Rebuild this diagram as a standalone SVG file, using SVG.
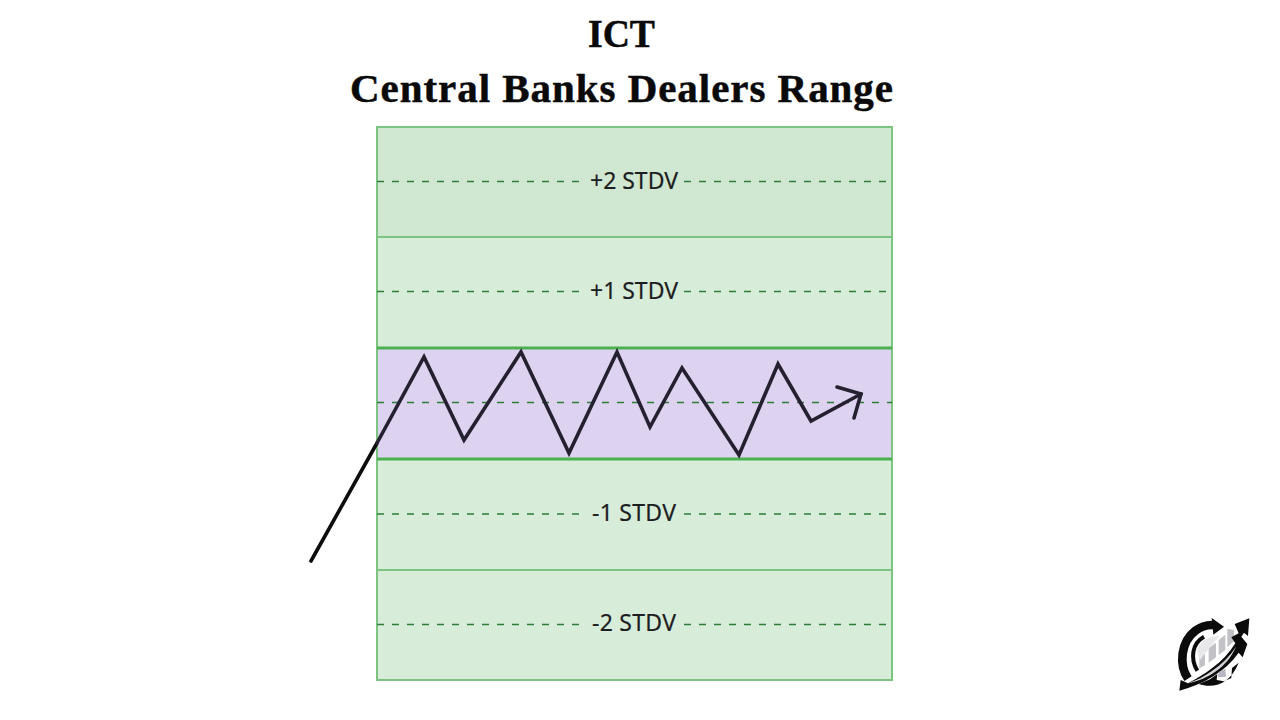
<svg xmlns="http://www.w3.org/2000/svg" width="1280" height="720" viewBox="0 0 1280 720">
<style>
.title{font-family:"Liberation Serif","DejaVu Serif",serif;font-weight:700;font-size:41px;fill:#0a0a0a;stroke:#0a0a0a;stroke-width:.5;text-anchor:middle}
.lab{font-family:"Noto Sans","DejaVu Sans",sans-serif;font-size:23px;fill:#1d1d22;stroke:#1d1d22;stroke-width:.2;text-anchor:middle}
.band{fill:#d7edd9;stroke:#7cc47f;stroke-width:2}
.dash{stroke:#2f7d38;stroke-width:1.5;stroke-dasharray:7 8;fill:none}
.edge{stroke:#4caf50;stroke-width:3}
.px{fill:none;stroke:#252030;stroke-width:3.6;stroke-linejoin:miter;stroke-linecap:round}
</style>
<rect width="1280" height="720" fill="#fff"/>
<g id="title">
<text class="title" x="621.5" y="47" textLength="67" lengthAdjust="spacingAndGlyphs">ICT</text>
<text class="title" x="621.5" y="102" textLength="543" lengthAdjust="spacing">Central Banks Dealers Range</text>
</g>
<g id="band-plus2"><rect class="band" x="377" y="127" width="515" height="110" style="fill:#d0e8d1"/></g>
<g id="band-plus1"><rect class="band" x="377" y="237" width="515" height="111"/></g>
<g id="band-range"><rect class="band" x="377" y="348" width="515" height="111" style="fill:#ddd2ef"/></g>
<g id="band-minus1"><rect class="band" x="377" y="459" width="515" height="111"/></g>
<g id="band-minus2"><rect class="band" x="377" y="570" width="515" height="110"/></g>
<g id="range-edges">
<line class="edge" x1="377" y1="348" x2="892" y2="348"/>
<line class="edge" x1="377" y1="459" x2="892" y2="459"/>
</g>
<g id="levels">
<path class="dash" d="M377 181.500H585"/><path class="dash" d="M684 181.500H892"/>
<path class="dash" d="M377 291.500H585"/><path class="dash" d="M684 291.500H892"/>
<path class="dash" d="M377 402.500H892"/>
<path class="dash" d="M377 514H585"/><path class="dash" d="M684 514H892"/>
<path class="dash" d="M377 624.500H585"/><path class="dash" d="M684 624.500H892"/>
</g>
<g id="labels">
<text class="lab" x="634" y="189" textLength="88">+2 STDV</text>
<text class="lab" x="634" y="299" textLength="88">+1 STDV</text>
<text class="lab" x="634" y="521" textLength="84">-1 STDV</text>
<text class="lab" x="634" y="631" textLength="84">-2 STDV</text>
</g>
<g id="connectors">
<path d="M311 561L377 443" fill="none" stroke="#0d0d0d" stroke-width="3.6" stroke-linecap="round"/>
<path class="px" d="M377 443L424 357L464 440L521 352L569 453L617 352L650 427L682 368L739 455L778 364L811 421L861 394"/>
<path class="px" d="M837 387L861 394L854 418"/>
</g>
<g id="logo" transform="translate(1160 600) scale(.3333)">
<path d="M118 170L118 205L135 196L135 155ZM146 145L146 188L168 172L168 128ZM176 120L176 165L196 150L196 104ZM202 86L202 142L222 124L222 90Z" fill="#c2c2c6"/>
<path d="M110 150C125 118 150 108 178 108L120 180Z" fill="#e8e8ea"/>
<path d="M84 236C56 195 62 125 106 92C122 80 140 74 160 75" fill="none" stroke="#0b0b0b" stroke-width="26"/>
<path d="M155 54L192 80L160 104Z" fill="#0b0b0b"/>
<path d="M112 212C90 175 96 130 132 110" fill="none" stroke="#0b0b0b" stroke-width="12"/>
<path d="M58 272L62 240L84 250C130 225 190 190 226 130L214 112L236 100L224 72L268 55L264 108L252 98L244 110L262 132L248 172L236 158C195 216 130 252 58 272Z" fill="#0b0b0b"/>
<path d="M84 250C130 234 190 198 228 140C202 202 142 238 84 250Z" fill="#d4d4d8"/>
<path d="M116 252C165 268 212 248 236 188L216 204L214 234L192 244L170 240L172 222L150 238Z" fill="#0b0b0b"/>
<path d="M174 232L176 216L196 206L198 230Z" fill="#b9b5c2"/>
</g>
</svg>
